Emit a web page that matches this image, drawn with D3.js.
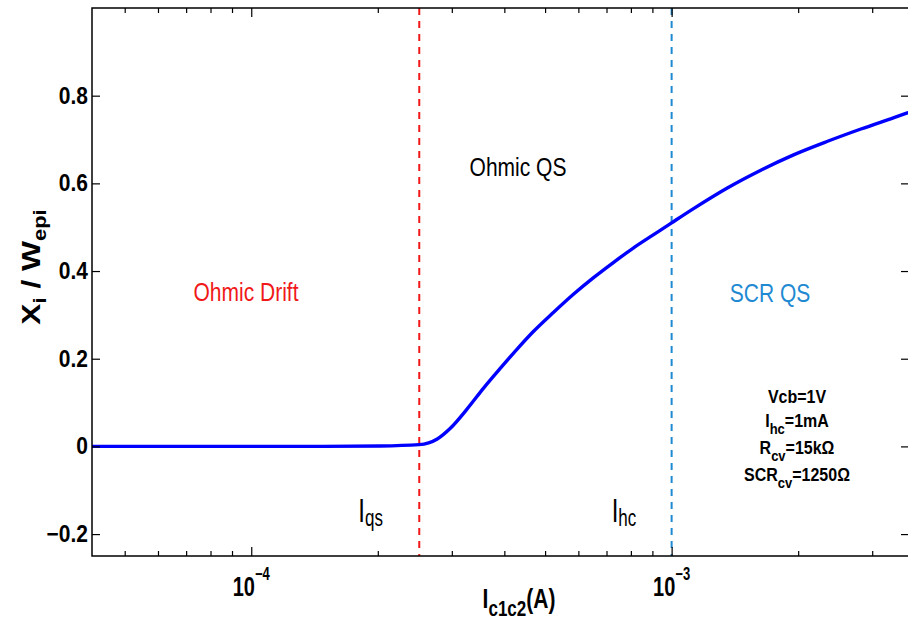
<!DOCTYPE html>
<html>
<head>
<meta charset="utf-8">
<script src="https://cdn.jsdelivr.net/npm/d3@7"></script>
<style>
  body { margin: 0; background: #fff; }
  svg { display: block; font-family: "Liberation Sans", Arial, Helvetica, sans-serif; }
</style>
</head>
<body>
<div id="container"></div>
<script>
// Chart dimensions (the right frame edge sits just past the picture)
const width = 908;
const height = 628;
const marginTop = 8;
const marginRight = -1;
const marginBottom = 72;
const marginLeft = 92;

// Curve: collector current (A) vs depletion ratio Xi/Wepi
const current = [4.18e-5, 7.56e-5, 1.31e-4, 2.03e-4, 2.51e-4, 2.77e-4, 2.98e-4, 3.26e-4,
  3.57e-4, 3.92e-4, 4.29e-4, 4.69e-4, 5.24e-4, 5.84e-4, 6.52e-4, 7.28e-4, 8.12e-4,
  9.06e-4, 1.0e-3, 1.13e-3, 1.36e-3, 1.63e-3, 1.95e-3, 2.35e-3, 2.82e-3, 3.38e-3, 3.67e-3];
const ratio = [0, 0, 0, 0.001, 0.004, 0.017, 0.042, 0.085,
  0.133, 0.179, 0.222, 0.262, 0.306, 0.347, 0.385, 0.420, 0.453,
  0.483, 0.510, 0.543, 0.590, 0.630, 0.665, 0.696, 0.724, 0.750, 0.762];

// Region boundaries
const Iqs = 2.51e-4;
const Ihc = 1.0e-3;

// Axis ticks
const xDomain = [4.18e-5, 3.67e-3];
const yDomain = [-0.25, 1.0];
const yTicks = [-0.2, 0, 0.2, 0.4, 0.6, 0.8];
const yTickLabels = ["\u22120.2", "0", "0.2", "0.4", "0.6", "0.8"];
const xMajor = [1e-4, 1e-3];
const xMajorExp = ["\u22124", "\u22123"];
const xMinor = [5e-5, 6e-5, 7e-5, 8e-5, 9e-5, 2e-4, 3e-4, 4e-4, 5e-4, 6e-4, 7e-4, 8e-4, 9e-4, 2e-3, 3e-3];

// Parameter box
const params = [
  { main: "Vcb=1V", sub: "", tail: "" },
  { main: "I", sub: "hc", tail: "=1mA" },
  { main: "R", sub: "cv", tail: "=15k\u03A9" },
  { main: "SCR", sub: "cv", tail: "=1250\u03A9" }
];

const red = "#f01818";
const lightBlue = "#1f8ad2";

const x = d3.scaleLog()
    .domain(xDomain)
    .range([marginLeft, width - marginRight]);

const y = d3.scaleLinear()
    .domain(yDomain)
    .range([height - marginBottom, marginTop]);

const svg = d3.select("#container").append("svg")
    .attr("width", width)
    .attr("height", height)
    .attr("viewBox", [0, 0, width, height]);

// text that is stretched a bit vertically, like the exported figure
function stretched(px, py, sy, anchor) {
  return svg.append("text")
      .attr("transform", `translate(${px},${py}) scale(1,${sy})`)
      .attr("text-anchor", anchor);
}

// dashed region boundaries
svg.append("line")
    .attr("x1", x(Iqs)).attr("x2", x(Iqs))
    .attr("y1", y(yDomain[1])).attr("y2", y(yDomain[0]))
    .attr("stroke", red).attr("stroke-width", 2)
    .attr("stroke-dasharray", "7,6");

svg.append("line")
    .attr("x1", x(Ihc)).attr("x2", x(Ihc))
    .attr("y1", y(yDomain[1])).attr("y2", y(yDomain[0]))
    .attr("stroke", lightBlue).attr("stroke-width", 2)
    .attr("stroke-dasharray", "7,6");

// the curve
const line = d3.line()
    .x((d, i) => x(current[i]))
    .y(d => y(d))
    .curve(d3.curveMonotoneX);

svg.append("path")
    .datum(ratio)
    .attr("fill", "none")
    .attr("stroke", "#0000ff")
    .attr("stroke-width", 3.4)
    .attr("stroke-linejoin", "round")
    .attr("d", line);

// axes: bottom/top with inward ticks
const bottomY = y(yDomain[0]);
const topY = y(yDomain[1]);

svg.append("g")
    .attr("transform", `translate(0,${bottomY})`)
    .call(d3.axisTop(x).tickValues(xMajor).tickSize(9).tickFormat(""))
    .call(g => g.select(".domain").remove());
svg.append("g")
    .attr("transform", `translate(0,${bottomY})`)
    .call(d3.axisTop(x).tickValues(xMinor).tickSize(5).tickFormat(""))
    .call(g => g.select(".domain").remove());
svg.append("g")
    .attr("transform", `translate(0,${topY})`)
    .call(d3.axisBottom(x).tickValues(xMajor).tickSize(9).tickFormat(""))
    .call(g => g.select(".domain").remove());
svg.append("g")
    .attr("transform", `translate(0,${topY})`)
    .call(d3.axisBottom(x).tickValues(xMinor).tickSize(5).tickFormat(""))
    .call(g => g.select(".domain").remove());

// left/right with inward ticks
svg.append("g")
    .attr("transform", `translate(${marginLeft},0)`)
    .call(d3.axisRight(y).tickValues(yTicks).tickSize(8).tickFormat(""))
    .call(g => g.select(".domain").remove());
svg.append("g")
    .attr("transform", `translate(${width - marginRight},0)`)
    .call(d3.axisLeft(y).tickValues(yTicks).tickSize(8).tickFormat(""))
    .call(g => g.select(".domain").remove());

svg.selectAll(".tick line").attr("stroke", "#000").attr("stroke-width", 1.2);

// frame
svg.append("rect")
    .attr("x", marginLeft)
    .attr("y", topY)
    .attr("width", width - marginRight - marginLeft)
    .attr("height", bottomY - topY)
    .attr("fill", "none")
    .attr("stroke", "#000")
    .attr("stroke-width", 1.5);

// y tick labels
yTicks.forEach((v, i) => {
  stretched(88, y(v) + 8, 1.12, "end")
      .attr("font-size", 21)
      .attr("font-weight", "bold")
      .text(yTickLabels[i]);
});

// x tick labels 10^n
xMajor.forEach((v, i) => {
  const t = stretched(x(v), 596, 1.35, "middle")
      .attr("font-size", 20)
      .attr("font-weight", "bold");
  t.append("tspan").text("10");
  t.append("tspan").attr("font-size", 13).attr("dy", -12).text(xMajorExp[i]);
});

// axis titles
const xt = stretched(519, 608, 1.3, "middle")
    .attr("font-size", 21)
    .attr("font-weight", "bold");
xt.append("tspan").text("I");
xt.append("tspan").attr("font-size", 17).attr("dy", 6).text("c1c2");
xt.append("tspan").attr("dy", -6).text("(A)");

// rotated title, stretched along its length
const yt = svg.append("text")
    .attr("transform", "translate(40,267) rotate(-90) scale(1.22,1)")
    .attr("text-anchor", "middle")
    .attr("font-size", 26)
    .attr("font-weight", "bold");
yt.append("tspan").text("X");
yt.append("tspan").attr("font-size", 18).attr("dy", 6).text("i");
yt.append("tspan").attr("dy", -6).text(" / W");
yt.append("tspan").attr("font-size", 18).attr("dy", 6).text("epi");

// region names
stretched(246, 301, 1.2, "middle")
    .attr("font-size", 21).attr("fill", red).text("Ohmic Drift");
stretched(518, 176, 1.2, "middle")
    .attr("font-size", 21).attr("fill", "#000").text("Ohmic QS");
stretched(770, 302, 1.2, "middle")
    .attr("font-size", 21).attr("fill", lightBlue).text("SCR QS");

// boundary names
[[Iqs, "qs", -61], [Ihc, "hc", -60]].forEach(([v, sub, dx]) => {
  const t = stretched(x(v) + dx, 522, 1.4, "start")
      .attr("font-size", 24);
  t.append("tspan").text("I");
  t.append("tspan").attr("font-size", 17).attr("dy", 3).text(sub);
});

// parameter box
const paramBase = [403, 427, 454, 481];
params.forEach((p, i) => {
  const t = stretched(797, paramBase[i], 1.12, "middle")
      .attr("font-size", 16)
      .attr("font-weight", "bold");
  t.append("tspan").text(p.main);
  if (p.sub) {
    t.append("tspan").attr("font-size", 13).attr("dy", 6).text(p.sub);
    t.append("tspan").attr("dy", -6).text(p.tail);
  }
});
</script>
</body>
</html>
